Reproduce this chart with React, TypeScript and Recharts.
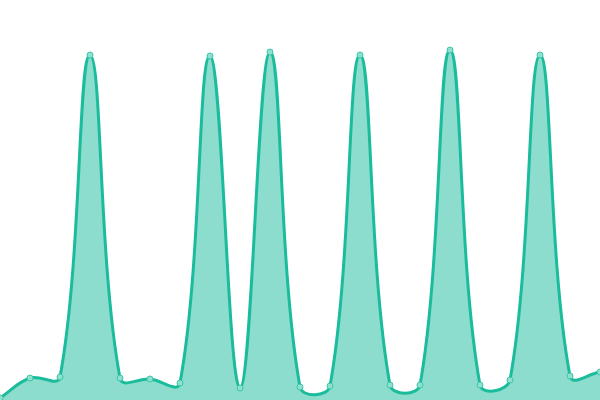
import React from 'react';
import { AreaChart, Area, XAxis, YAxis } from 'recharts';

const categories = ['1','2','3','4','5','6','7','8','9','10','11','12','13','14','15','16','17','18','19','20','21'];
const values = [2, 22, 23, 345, 22, 21, 17, 344, 12, 348, 13, 14, 345, 15, 15, 350, 15, 20, 345, 24, 28];

const data = categories.map((c, i) => ({ name: c, value: values[i] }));

const TENSION = 0.4;

class TensionCurve {
  _context: any;
  _line: number;
  _pts: number[][];
  constructor(ctx: any) {
    this._context = ctx;
    this._line = NaN;
    this._pts = [];
  }
  areaStart() { this._line = 0; }
  areaEnd() { this._line = NaN; }
  lineStart() { this._pts = []; }
  point(x: number, y: number) { this._pts.push([+x, +y]); }
  lineEnd() {
    const p = this._pts;
    const ctx = this._context;
    const n = p.length;
    if (n) {
      if (this._line) ctx.lineTo(p[0][0], p[0][1]);
      else ctx.moveTo(p[0][0], p[0][1]);
      if (n === 2) {
        ctx.lineTo(p[1][0], p[1][1]);
      } else if (n > 2) {
        const prevCp: number[][] = [];
        const nextCp: number[][] = [];
        for (let i = 0; i < n; i++) {
          const prev = p[Math.max(i - 1, 0)];
          const cur = p[i];
          const next = p[Math.min(i + 1, n - 1)];
          const d01 = Math.hypot(cur[0] - prev[0], cur[1] - prev[1]);
          const d12 = Math.hypot(next[0] - cur[0], next[1] - cur[1]);
          let s01 = d01 / (d01 + d12);
          let s12 = d12 / (d01 + d12);
          if (isNaN(s01)) s01 = 0;
          if (isNaN(s12)) s12 = 0;
          const fa = TENSION * s01;
          const fb = TENSION * s12;
          prevCp.push([cur[0] - fa * (next[0] - prev[0]), cur[1] - fa * (next[1] - prev[1])]);
          nextCp.push([cur[0] + fb * (next[0] - prev[0]), cur[1] + fb * (next[1] - prev[1])]);
        }
        for (let i = 1; i < n; i++) {
          ctx.bezierCurveTo(nextCp[i - 1][0], nextCp[i - 1][1], prevCp[i][0], prevCp[i][1], p[i][0], p[i][1]);
        }
      }
    }
    if (this._line || (this._line !== 0 && n === 1)) ctx.closePath();
    this._line = 1 - this._line;
  }
}

const tensionCurve = (ctx: any) => new TensionCurve(ctx);

export default function App() {
  return (
    <div style={{ position: 'absolute', left: 0, top: 0, width: 600, height: 400, background: '#fff' }}>
      <AreaChart width={600} height={400} data={data} margin={{ top: 0, right: 0, bottom: 0, left: 0 }}>
        <XAxis dataKey="name" hide padding={{ left: 0, right: 0 }} />
        <YAxis hide domain={[0, 400]} />
        <Area
          type={tensionCurve as any}
          dataKey="value"
          stroke="#1abc9c"
          strokeWidth={3}
          fill="#1abc9c"
          fillOpacity={0.5}
          dot={{ r: 3, fill: '#8ee0cf', stroke: '#3cc7aa', strokeWidth: 1, fillOpacity: 1 }}
          activeDot={false}
          isAnimationActive={false}
        />
      </AreaChart>
    </div>
  );
}
